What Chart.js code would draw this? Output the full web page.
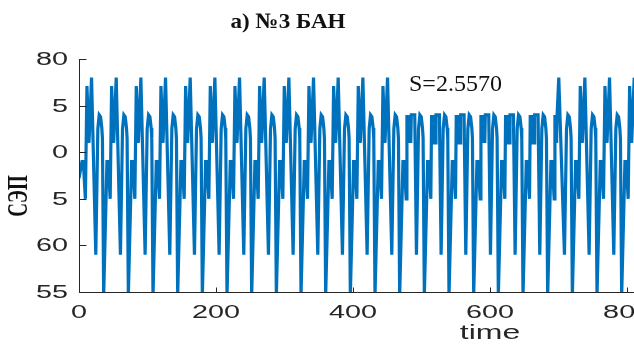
<!DOCTYPE html>
<html>
<head>
<meta charset="utf-8">
<script src="https://cdn.jsdelivr.net/npm/chart.js@4/dist/chart.umd.min.js"></script>
<style>
  html, body { margin: 0; padding: 0; background: #fff; overflow: hidden; }
  #wrap { width: 634px; height: 347px; position: relative; }
</style>
</head>
<body>
<div id="wrap"><canvas id="c" width="634" height="347"></canvas></div>
<script>
// ---- texts ----
const titleText = 'а) №3 БАН';
const yTitleText = 'СЭП';
const xTitleText = 'time';
const noteText = 'S=2.5570';

// ---- axes ----
const xTickValues = [0, 200, 400, 600, 800];
const xTickLabels = ['0', '200', '400', '600', '800'];
const yTickValues = [80, 75, 70, 65, 60, 55];
const yTickLabels = ['80', '5', '0', '5', '60', '55'];
const xRange = [0, 810];
const yRange = [55, 80];

// ---- signal ----
// time of the deep trough that opens each cycle
const cycleStarts = [0, 36, 72, 108, 144, 180, 216, 252, 288, 324, 360, 396,
                     432, 468, 504, 540, 576, 612, 648, 684, 720, 756, 792];
// shape used by each cycle
const cycleKinds = ['lead', 'burst', 'burst', 'burst', 'burst', 'burst', 'burst',
                    'burst', 'burst', 'burst', 'burst', 'burst', 'burst',
                    'plateau', 'plateau', 'plateau', 'plateau', 'plateau', 'plateau',
                    'return', 'burst', 'burst', 'burst'];

// cycle shapes: offsets from the cycle start and the values there
const burstPhase   = [0, 4.8, 6.5, 9.5, 11.6, 14.6, 18.3, 24.5, 27.5, 29.5, 31.5, 33.3, 34.2];
const burstValue   = [54.6, 69, 69, 65, 77.1, 71, 78, 59, 72.5, 74, 73.8, 72.6, 71.5];

const leadPhase    = [0, 4.4, 6.3, 9.3, 11.6, 14.6, 18.3, 24.5, 27.5, 29.5, 31.5, 33.3, 34.2];
const leadValue    = [67.2, 69, 69, 65, 77.1, 71, 78, 59, 72.5, 74, 73.8, 72.6, 71.5];

const plateauPhase = [0, 4.8, 6.5, 9.5, 10.6, 11.4, 12.2, 13.0, 13.8, 14.6, 15.4, 16.2, 17.0,
                      22.0, 24.5, 27.5, 29.5, 31.5, 33.3, 34.2];
const plateauValue = [54.6, 69, 69, 65, 74, 71, 74, 71, 74, 71, 74, 71, 74,
                      74, 59, 72.5, 74, 73.8, 72.6, 71.5];

const returnPhase  = [0, 4.8, 6.5, 9.5, 10.6, 11.4, 12.2, 13.0, 13.8, 16.2, 24.5,
                      27.5, 29.5, 31.5, 33.3, 34.2];
const returnValue  = [54.6, 69, 69, 65, 74, 71, 74, 71, 74, 78, 59,
                      72.5, 74, 73.8, 72.6, 71.5];

const shapes = {
  lead:    [leadPhase, leadValue],
  burst:   [burstPhase, burstValue],
  plateau: [plateauPhase, plateauValue],
  return:  [returnPhase, returnValue]
};

const points = [];
cycleStarts.forEach((t0, i) => {
  const [ph, val] = shapes[cycleKinds[i]];
  ph.forEach((p, j) => points.push({ x: t0 + p, y: val[j] }));
});

// ---- drawing helpers ----
const INK = '#262626';
function drawText(ctx, s, x, y, font, align, baseline, sx, color, rot) {
  ctx.save();
  ctx.translate(x, y);
  ctx.scale(sx, 1);
  if (rot) ctx.rotate(rot);
  ctx.font = font;
  ctx.textAlign = align;
  ctx.textBaseline = baseline;
  ctx.fillStyle = color;
  ctx.fillText(s, 0, 0);
  ctx.restore();
}

const axesPlugin = {
  id: 'axesPlugin',
  afterDraw(chart) {
    const ctx = chart.ctx;
    const xs = chart.scales.x, ys = chart.scales.y;
    const a = chart.chartArea;
    const left = Math.round(a.left) + 0.5;
    const bottom = Math.round(a.bottom) + 0.5;
    ctx.save();
    ctx.strokeStyle = INK;
    ctx.lineWidth = 1;
    ctx.beginPath();
    ctx.moveTo(left, Math.round(a.top));
    ctx.lineTo(left, bottom);
    ctx.lineTo(a.right + 2, bottom);
    // inward tick marks
    yTickValues.forEach(v => {
      const py = Math.round(ys.getPixelForValue(v)) + 0.5;
      ctx.moveTo(left, py); ctx.lineTo(left + 7, py);
    });
    xTickValues.forEach(v => {
      const px = Math.round(xs.getPixelForValue(v)) + 0.5;
      ctx.moveTo(px, bottom); ctx.lineTo(px, bottom - 5);
    });
    ctx.stroke();
    ctx.restore();

    const tickFont = '18px "Liberation Sans", Arial, sans-serif';
    yTickValues.forEach((v, i) => {
      drawText(ctx, yTickLabels[i], 68, ys.getPixelForValue(v) + 1, tickFont, 'right', 'middle', 1.6, INK);
    });
    xTickValues.forEach((v, i) => {
      drawText(ctx, xTickLabels[i], xs.getPixelForValue(v), 313, tickFont, 'center', 'middle', 1.6, INK);
    });
    drawText(ctx, xTitleText, 490, 333, '20px "Liberation Sans", Arial, sans-serif', 'center', 'middle', 1.6, INK);
    drawText(ctx, yTitleText, 19, 196, 'bold 19px "Liberation Serif", serif', 'center', 'middle', 1.6, '#111', -Math.PI / 2);
    drawText(ctx, titleText, 288, 22, 'bold 22px "Liberation Serif", serif', 'center', 'middle', 1.05, '#111');
    drawText(ctx, noteText, 409, 91, '24px "Liberation Serif", serif', 'left', 'alphabetic', 1, '#111');
  }
};

new Chart(document.getElementById('c'), {
  type: 'line',
  data: {
    datasets: [{
      data: points,
      borderColor: '#0072BD',
      borderWidth: 3.2,
      pointRadius: 0,
      tension: 0,
      fill: false,
      clip: 0
    }]
  },
  options: {
    responsive: false,
    animation: false,
    devicePixelRatio: 1,
    parsing: false,
    layout: { padding: { left: 79, top: 59, right: 0, bottom: 55 } },
    plugins: { legend: { display: false }, tooltip: { enabled: false }, title: { display: false } },
    scales: {
      x: { type: 'linear', min: xRange[0], max: xRange[1], display: false },
      y: { type: 'linear', min: yRange[0], max: yRange[1], display: false }
    }
  },
  plugins: [axesPlugin]
});
</script>
</body>
</html>
